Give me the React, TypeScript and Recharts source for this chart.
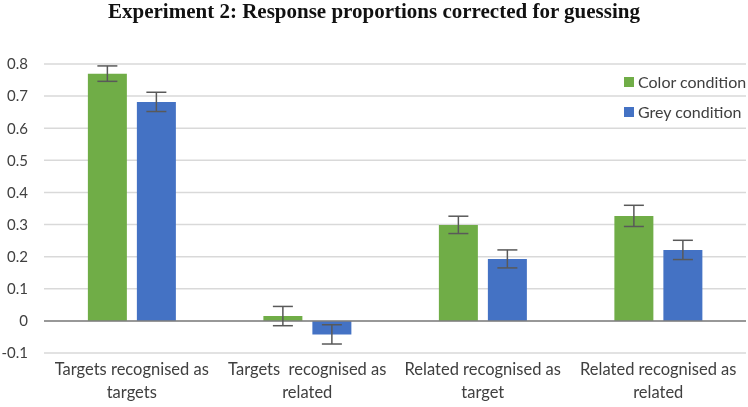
import { BarChart, Bar, XAxis, YAxis, CartesianGrid, ErrorBar, ReferenceLine } from 'recharts';

const categories = [
  'Targets recognised as|targets',
  'Targets  recognised as|related',
  'Related recognised as|target',
  'Related recognised as|related',
];
const colorValues = [0.77, 0.015, 0.299, 0.327];
const colorErrors = [0.024, 0.03, 0.027, 0.033];
const greyValues = [0.682, -0.042, 0.193, 0.221];
const greyErrors = [0.03, 0.03, 0.028, 0.03];
const yTicks = [-0.1, 0, 0.1, 0.2, 0.3, 0.4, 0.5, 0.6, 0.7, 0.8];

const data = categories.map((name, i) => ({
  name,
  color: colorValues[i],
  colorErr: colorErrors[i],
  grey: greyValues[i],
  greyErr: greyErrors[i],
}));

const FONT = 'Lato, "Liberation Sans", sans-serif';
const GREEN = '#70ad47';
const BLUE = '#4472c4';

function CatTick(props: any) {
  const { x, y, payload } = props;
  const lines = String(payload.value).split('|');
  return (
    <g transform={`translate(${x},${y})`}>
      {lines.map((l, i) => (
        <text key={i} x={0} y={14 + i * 23} textAnchor="middle" fill="#404040" fontSize={16.5} fontFamily={FONT} style={{ whiteSpace: 'pre' }}>
          {l}
        </text>
      ))}
    </g>
  );
}

export default function App() {
  return (
    <div style={{ position: 'fixed', left: 0, top: 0, width: 748, height: 407, background: '#fff' }}>
      <div style={{ position: 'absolute', top: 0, width: 748, textAlign: 'center', fontFamily: '"Liberation Serif", serif', fontWeight: 'bold', fontSize: 21, lineHeight: '22px', color: '#111' }}>
        Experiment 2: Response proportions corrected for guessing
      </div>
      <BarChart width={748} height={407} data={data} margin={{ top: 64, right: 2, bottom: 0, left: 0 }} barCategoryGap="25%" barGap={10}>
        <CartesianGrid vertical={false} stroke="#d9d9d9" strokeWidth={1.5} />
        <XAxis dataKey="name" axisLine={false} tickLine={false} height={54} tick={<CatTick />} interval={0} />
        <YAxis domain={[-0.1, 0.8]} ticks={yTicks} width={44} axisLine={false} tickLine={false} tick={{ fill: '#404040', fontSize: 15, fontFamily: FONT }} tickMargin={10} />
        <ReferenceLine y={0} stroke="#7f7f7f" strokeWidth={1.5} />
        <Bar dataKey="color" fill={GREEN} isAnimationActive={false}>
          <ErrorBar dataKey="colorErr" width={10} stroke="#595959" strokeWidth={1.5} />
        </Bar>
        <Bar dataKey="grey" fill={BLUE} isAnimationActive={false}>
          <ErrorBar dataKey="greyErr" width={10} stroke="#595959" strokeWidth={1.5} />
        </Bar>
      </BarChart>
      <div style={{ position: 'absolute', left: 624, top: 67, fontFamily: FONT, fontSize: 16, color: '#404040', lineHeight: '30px', whiteSpace: 'nowrap' }}>
        <div style={{ display: 'flex', alignItems: 'center' }}>
          <span style={{ width: 10, height: 10, background: GREEN, marginRight: 4, display: 'inline-block' }} />Color condition
        </div>
        <div style={{ display: 'flex', alignItems: 'center' }}>
          <span style={{ width: 10, height: 10, background: BLUE, marginRight: 4, display: 'inline-block' }} />Grey condition
        </div>
      </div>
    </div>
  );
}
